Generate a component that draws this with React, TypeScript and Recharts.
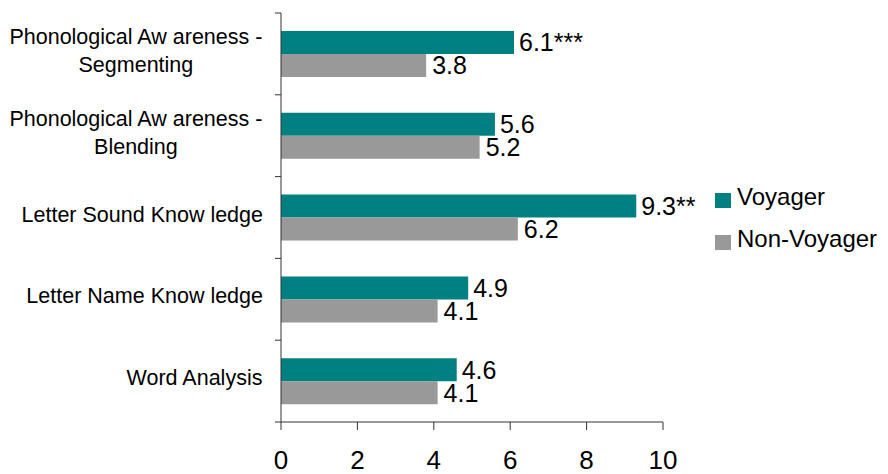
import { Bar, BarChart, LabelList, Legend, XAxis, YAxis } from "recharts";

const categories = [
  "Phonological Aw areness -\nSegmenting",
  "Phonological Aw areness -\nBlending",
  "Letter Sound Know ledge",
  "Letter Name Know ledge",
  "Word Analysis",
];
const voyager = [6.1, 5.6, 9.3, 4.9, 4.6];
const nonVoyager = [3.8, 5.2, 6.2, 4.1, 4.1];
const significance = ["***", "", "**", "", ""];
const xTicks = [0, 2, 4, 6, 8, 10];

const data = categories.map((name, i) => ({
  name,
  voyager: voyager[i],
  nonVoyager: nonVoyager[i],
  voyagerLabel: voyager[i].toFixed(1) + significance[i],
  nonVoyagerLabel: nonVoyager[i].toFixed(1),
}));

const TEAL = "#008080";
const GRAY = "#999999";
const AXIS = "#333333";
const FONT = "Arial, 'Liberation Sans', sans-serif";
const LABEL_SIZE = 21.5;

let measureCtx: CanvasRenderingContext2D | null = null;
function textWidth(s: string) {
  if (!measureCtx) {
    measureCtx = document.createElement("canvas").getContext("2d");
  }
  if (!measureCtx) return s.length * LABEL_SIZE * 0.5;
  measureCtx.font = `${LABEL_SIZE}px ${FONT}`;
  return measureCtx.measureText(s).width;
}

function CategoryTick(props: any) {
  const { x, y, payload, index } = props;
  const half = payload.offset ?? 40.8;
  const lines: string[] = String(payload.value).split("\n");
  const right = x - 18;
  const widest = Math.max(...lines.map(textWidth));
  const cx = right - widest / 2;
  const lineH = 28;
  const startY = y - 3 - ((lines.length - 1) * lineH) / 2;
  return (
    <g>
      <line x1={x - 6} x2={x} y1={y - half} y2={y - half} stroke={AXIS} />
      {index === categories.length - 1 && (
        <line x1={x - 6} x2={x} y1={y + half} y2={y + half} stroke={AXIS} />
      )}
      <text
        x={cx}
        y={startY}
        textAnchor="middle"
        dominantBaseline="central"
        fontSize={LABEL_SIZE}
        fontFamily={FONT}
        fill="#000"
      >
        {lines.map((l, i) => (
          <tspan key={i} x={cx} y={startY + i * lineH}>
            {l}
          </tspan>
        ))}
      </text>
    </g>
  );
}

function LegendBox() {
  const items = [
    { label: "Voyager", color: TEAL },
    { label: "Non-Voyager", color: GRAY },
  ];
  return (
    <div style={{ fontFamily: FONT, fontSize: 24, color: "#000", whiteSpace: "nowrap", width: 180 }}>
      {items.map((it) => (
        <div key={it.label} style={{ display: "flex", alignItems: "center", height: 42 }}>
          <span
            style={{
              display: "inline-block",
              flexShrink: 0,
              width: 16,
              height: 15,
              background: it.color,
              marginRight: 6,
              marginTop: 7,
            }}
          />
          <span style={{ lineHeight: 1 }}>{it.label}</span>
        </div>
      ))}
    </div>
  );
}

export default function App() {
  return (
    <div style={{ position: "absolute", left: 0, top: 0, width: 888, height: 474, background: "#fff" }}>
      <BarChart
        width={888}
        height={474}
        data={data}
        layout="vertical"
        margin={{ top: 13, right: 225, left: 0, bottom: 0 }}
        barCategoryGap={18}
        barGap={0}
      >
        <XAxis
          type="number"
          domain={[0, 10]}
          ticks={xTicks}
          height={52}
          tickSize={8}
          tickMargin={21}
          stroke={AXIS}
          tick={{ fontSize: 26, fill: "#000", fontFamily: FONT }}
        />
        <YAxis
          type="category"
          dataKey="name"
          width={281}
          tickLine={false}
          tickSize={0}
          tickMargin={0}
          stroke={AXIS}
          tick={<CategoryTick />}
          interval={0}
        />
        <Legend
          content={<LegendBox />}
          wrapperStyle={{ left: 715, top: 176, width: 0, height: 0, overflow: "visible" }}
        />
        <Bar dataKey="voyager" name="Voyager" fill={TEAL} isAnimationActive={false}>
          <LabelList
            dataKey="voyagerLabel"
            position="right"
            offset={5}
            fontSize={25}
            fill="#000"
            fontFamily={FONT}
          />
        </Bar>
        <Bar dataKey="nonVoyager" name="Non-Voyager" fill={GRAY} isAnimationActive={false}>
          <LabelList
            dataKey="nonVoyagerLabel"
            position="right"
            offset={6}
            fontSize={25}
            fill="#000"
            fontFamily={FONT}
          />
        </Bar>
      </BarChart>
    </div>
  );
}
